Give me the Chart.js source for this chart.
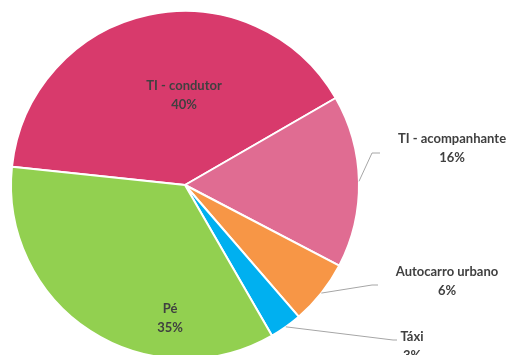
<!DOCTYPE html>
<html lang="pt">
<head>
    <meta charset="UTF-8">
    <title>Repartição modal</title>
    <script src="https://cdn.jsdelivr.net/npm/chart.js"></script>
    <style>
        html, body {
            margin: 0;
            padding: 0;
            overflow: hidden;
            background-color: #ffffff;
        }
        #wrap {
            position: relative;
            width: 511px;
            height: 380px;
        }
    </style>
</head>
<body>
    <div id="wrap">
        <canvas id="modalChart"></canvas>
    </div>

    <script>
        // Modos de transporte e respetivas percentagens
        const modos = ['TI - condutor', 'TI - acompanhante', 'Autocarro urbano', 'Táxi', 'Pé'];
        const percentagens = [40, 16, 6, 3, 35];
        const cores = ['#D83A6C', '#E06C92', '#F79646', '#00B0F0', '#92D050'];

        // Posição dos rótulos (centro da primeira linha) e se levam linha de chamada
        const rotulos = [
            { x: 184, y: 86, guia: false },
            { x: 452, y: 139, guia: true, dobra: [372, 153], fim: [380, 153] },
            { x: 447, y: 272, guia: true, dobra: [372, 285], fim: [378, 285] },
            { x: 412, y: 337, guia: true, dobra: [393, 340], fim: [397, 340] },
            { x: 170, y: 309, guia: false }
        ];

        const rotulosPlugin = {
            id: 'rotulos',
            afterDatasetsDraw(chart) {
                const ctx = chart.ctx;
                const meta = chart.getDatasetMeta(0);
                ctx.save();
                meta.data.forEach((arc, i) => {
                    const r = rotulos[i];
                    if (r.guia) {
                        const p = arc.getProps(['x', 'y', 'startAngle', 'endAngle', 'outerRadius'], true);
                        const meio = (p.startAngle + p.endAngle) / 2;
                        const x0 = p.x + Math.cos(meio) * p.outerRadius;
                        const y0 = p.y + Math.sin(meio) * p.outerRadius;
                        ctx.beginPath();
                        ctx.strokeStyle = '#A6A6A6';
                        ctx.lineWidth = 1;
                        ctx.moveTo(x0, y0);
                        ctx.lineTo(r.dobra[0], r.dobra[1]);
                        ctx.lineTo(r.fim[0], r.fim[1]);
                        ctx.stroke();
                    }
                    ctx.fillStyle = '#404040';
                    ctx.font = 'bold 13px Lato';
                    ctx.textAlign = 'center';
                    ctx.textBaseline = 'middle';
                    ctx.fillText(modos[i], r.x, r.y);
                    ctx.fillText(percentagens[i] + '%', r.x, r.y + 19);
                });
                ctx.restore();
            }
        };

        new Chart(document.getElementById('modalChart'), {
            type: 'pie',
            data: {
                labels: modos,
                datasets: [{
                    data: percentagens,
                    backgroundColor: cores,
                    borderColor: '#ffffff',
                    borderWidth: 2
                }]
            },
            options: {
                responsive: true,
                maintainAspectRatio: false,
                animation: false,
                rotation: 276,
                layout: {
                    padding: { left: 10, top: 10, right: 151, bottom: 20 }
                },
                plugins: {
                    legend: { display: false },
                    tooltip: { enabled: false }
                }
            },
            plugins: [rotulosPlugin]
        });
    </script>
</body>
</html>
